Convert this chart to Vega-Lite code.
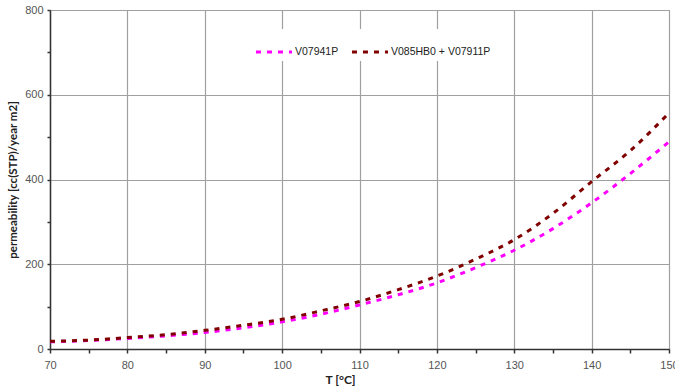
{
  "$schema": "https://vega.github.io/schema/vega-lite/v6.json",
  "width": 619,
  "height": 339,
  "autosize": {"type": "none"},
  "padding": {"left": 50, "top": 10, "right": 6, "bottom": 37},
  "background": "white",
  "config": {
    "view": {"stroke": "#a0a0a0", "strokeWidth": 1},
    "font": "Liberation Sans"
  },
  "data": {
    "values": [
      {"T": 70, "series": "V07941P", "value": 17},
      {"T": 75, "series": "V07941P", "value": 20},
      {"T": 80, "series": "V07941P", "value": 25},
      {"T": 85, "series": "V07941P", "value": 31},
      {"T": 90, "series": "V07941P", "value": 39},
      {"T": 95, "series": "V07941P", "value": 50},
      {"T": 100, "series": "V07941P", "value": 64},
      {"T": 105, "series": "V07941P", "value": 82},
      {"T": 110, "series": "V07941P", "value": 104},
      {"T": 115, "series": "V07941P", "value": 128},
      {"T": 120, "series": "V07941P", "value": 156},
      {"T": 125, "series": "V07941P", "value": 192},
      {"T": 130, "series": "V07941P", "value": 233},
      {"T": 135, "series": "V07941P", "value": 284},
      {"T": 140, "series": "V07941P", "value": 345},
      {"T": 145, "series": "V07941P", "value": 414},
      {"T": 150, "series": "V07941P", "value": 489},
      {"T": 70, "series": "V085HB0 + V07911P", "value": 18},
      {"T": 75, "series": "V085HB0 + V07911P", "value": 21},
      {"T": 80, "series": "V085HB0 + V07911P", "value": 27},
      {"T": 85, "series": "V085HB0 + V07911P", "value": 34},
      {"T": 90, "series": "V085HB0 + V07911P", "value": 44},
      {"T": 95, "series": "V085HB0 + V07911P", "value": 56},
      {"T": 100, "series": "V085HB0 + V07911P", "value": 70},
      {"T": 105, "series": "V085HB0 + V07911P", "value": 90},
      {"T": 110, "series": "V085HB0 + V07911P", "value": 112},
      {"T": 115, "series": "V085HB0 + V07911P", "value": 140},
      {"T": 120, "series": "V085HB0 + V07911P", "value": 172},
      {"T": 125, "series": "V085HB0 + V07911P", "value": 212},
      {"T": 130, "series": "V085HB0 + V07911P", "value": 258},
      {"T": 135, "series": "V085HB0 + V07911P", "value": 320},
      {"T": 140, "series": "V085HB0 + V07911P", "value": 395},
      {"T": 145, "series": "V085HB0 + V07911P", "value": 468},
      {"T": 150, "series": "V085HB0 + V07911P", "value": 557}
    ]
  },
  "mark": {"type": "line", "strokeWidth": 3, "strokeDash": [5, 6], "interpolate": "monotone"},
  "encoding": {
    "x": {
      "field": "T",
      "type": "quantitative",
      "scale": {"domain": [70, 150], "nice": false, "zero": false},
      "axis": {
        "title": "T [°C]",
        "titleFont": "Lato",
        "titleFontWeight": "bold",
        "titleFontSize": 12,
        "titleColor": "#222",
        "titlePadding": 4,
        "titleX": 290,
        "values": [70, 75, 80, 85, 90, 95, 100, 105, 110, 115, 120, 125, 130, 135, 140, 145, 150],
        "labelExpr": "datum.value % 10 === 0 ? datum.label : ''",
        "labelFontSize": 11,
        "labelColor": "#555",
        "labelPadding": 6,
        "labelFlush": false,
        "domainColor": "#333",
        "domainWidth": 1.5,
        "tickColor": "#333",
        "tickSize": 4,
        "tickWidth": 1.5,
        "grid": true,
        "gridColor": "#a0a0a0",
        "gridWidth": 1.2,
        "gridOpacity": {"condition": {"test": "datum.value % 10 === 0", "value": 1}, "value": 0}
      }
    },
    "y": {
      "field": "value",
      "type": "quantitative",
      "scale": {"domain": [0, 800], "nice": false},
      "axis": {
        "title": "permeability [cc(STP)/year m2]",
        "titleFont": "Lato",
        "titleFontWeight": "bold",
        "titleFontSize": 11.5,
        "titleColor": "#222",
        "titlePadding": 6,
        "values": [0, 100, 200, 300, 400, 500, 600, 700, 800],
        "labelExpr": "datum.value % 200 === 0 ? datum.label : ''",
        "labelFontSize": 11,
        "labelColor": "#555",
        "labelPadding": 4,
        "domainColor": "#333",
        "domainWidth": 1.5,
        "tickColor": "#333",
        "tickSize": 3,
        "tickWidth": 1.5,
        "grid": true,
        "gridColor": "#a0a0a0",
        "gridWidth": 1.2,
        "gridOpacity": {"condition": {"test": "datum.value % 200 === 0", "value": 1}, "value": 0}
      }
    },
    "color": {
      "field": "series",
      "type": "nominal",
      "scale": {"domain": ["V07941P", "V085HB0 + V07911P"], "range": ["#ff00ff", "#800000"]},
      "legend": {
        "title": null,
        "orient": "none",
        "legendX": 201,
        "legendY": 19,
        "direction": "horizontal",
        "fillColor": "white",
        "padding": 3,
        "symbolType": "stroke",
        "symbolSize": 1300,
        "symbolStrokeWidth": 3,
        "symbolDash": [5, 6],
        "labelFontSize": 10.5,
        "labelColor": "#222",
        "labelOffset": 1,
        "columnPadding": 6
      }
    }
  }
}
